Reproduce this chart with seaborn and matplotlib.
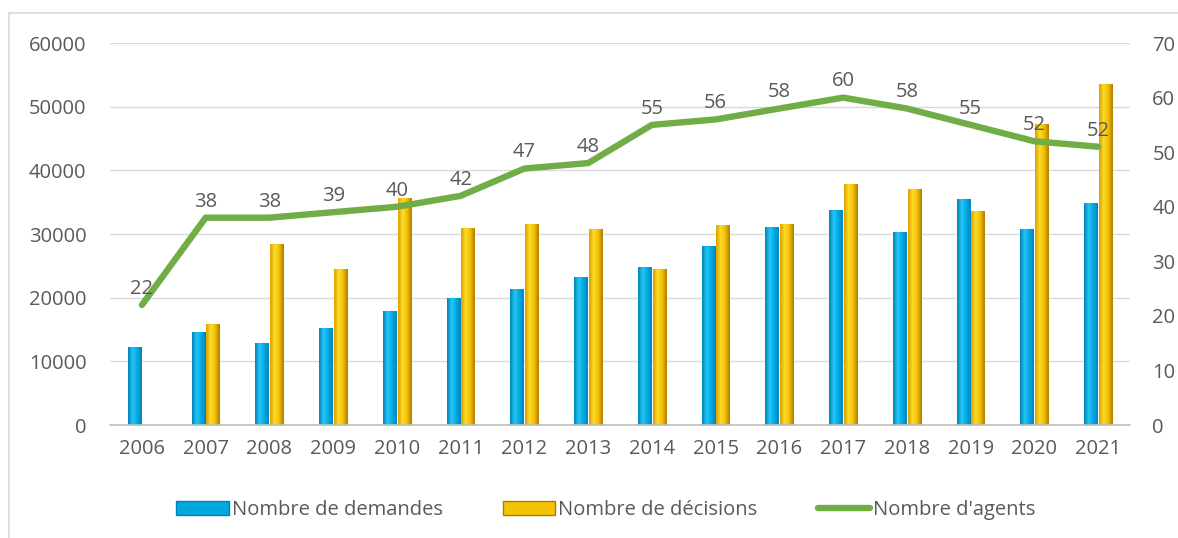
import numpy as np
import pandas as pd
import matplotlib
matplotlib.use('Agg')
import matplotlib.pyplot as plt
from matplotlib.patches import Rectangle, Patch
from matplotlib.lines import Line2D
import seaborn as sns

years = ['2006', '2007', '2008', '2009', '2010', '2011', '2012', '2013',
         '2014', '2015', '2016', '2017', '2018', '2019', '2020', '2021']
demandes = [12300, 14650, 12900, 15200, 17900, 20000, 21350, 23250,
            24850, 28100, 31150, 33850, 30250, 35450, 30850, 34900]
decisions = [0, 15850, 28400, 24450, 35600, 30900, 31500, 30850,
             24450, 31400, 31550, 37800, 37000, 33550, 47250, 53500]
agents = [22, 38, 38, 39, 40, 42, 47, 48, 55, 56, 58, 60, 58, 55, 52, 51]
agent_labels = ['22', '38', '38', '39', '40', '42', '47', '48',
                '55', '56', '58', '60', '58', '55', '52', '52']

series_names = ['Nombre de demandes', 'Nombre de décisions', "Nombre d'agents"]

sns.set_theme(style='white')
plt.rcParams['font.family'] = ['Open Sans', 'DejaVu Sans']
text_col = '#595959'
fs = 14.5

df = pd.DataFrame({'year': years * 2,
                   'value': demandes + decisions,
                   'serie': [series_names[0]] * len(years) + [series_names[1]] * len(years)})

fig = plt.figure(figsize=(11.78, 5.38), dpi=100)
ax = fig.add_axes([0.0934, 0.210, 0.8659, 0.710])

sns.barplot(data=df, x='year', y='value', hue='serie', ax=ax,
            palette=['#00A8E0', '#F5C400'], width=0.46, gap=0.1,
            legend=False, saturation=1)

# cylinder-like shading on the bars
grads = {0: ['#0082B8', '#26C6F6', '#00AAE2', '#0084BC'],
         1: ['#D9A000', '#FFDC2A', '#F2BE00', '#B07C00']}
n = len(years)
for i, p in enumerate(ax.patches[:2 * n]):
    g = grads[i // n]
    cmap = matplotlib.colors.LinearSegmentedColormap.from_list('c', g)
    x0, w = p.get_x(), p.get_width()
    h = p.get_height()
    if h <= 0:
        continue
    im = ax.imshow(np.linspace(0, 1, 64).reshape(1, -1), cmap=cmap, aspect='auto',
                   extent=[x0, x0 + w, 0, h], zorder=p.get_zorder(), interpolation='bicubic')
    im.set_clip_path(p)
    p.set_alpha(0)

ax.set_xlim(-0.5, n - 0.5)
ax.set_ylim(0, 60000)
ax.set_yticks(range(0, 60001, 10000))
ax.yaxis.grid(True, color='#D9D9D9', linewidth=1)
ax.set_axisbelow(True)
for s in ['top', 'right', 'left']:
    ax.spines[s].set_visible(False)
ax.spines['bottom'].set_color('#BFBFBF')
ax.spines['bottom'].set_linewidth(1.2)
ax.set_xlabel('')
ax.set_ylabel('')
ax.tick_params(axis='both', length=0, labelsize=fs, labelcolor=text_col)
ax.tick_params(axis='y', pad=17)
ax.tick_params(axis='x', pad=10)

ax2 = ax.twinx()
sns.lineplot(x=np.arange(n), y=agents, ax=ax2, color='#70AD47', linewidth=4.6,
             solid_capstyle='round', solid_joinstyle='round')
ax2.set_ylim(0, 70)
ax2.set_yticks(range(0, 71, 10))
for s in ax2.spines.values():
    s.set_visible(False)
ax2.tick_params(axis='y', length=0, labelsize=fs, labelcolor=text_col, pad=16)
ax2.set_xlim(-0.5, n - 0.5)

for i, (v, lab) in enumerate(zip(agents, agent_labels)):
    ax2.annotate(lab, (i, v), xytext=(0, 8), textcoords='offset points',
                 ha='center', va='baseline', fontsize=fs, color=text_col)

handles = [Patch(facecolor='#00A8E0', edgecolor='#0082B8'),
           Patch(facecolor='#F5C400', edgecolor='#B07C00'),
           Line2D([], [], color='#70AD47', linewidth=4.6, solid_capstyle='round')]
fig.legend(handles, series_names, loc='center', bbox_to_anchor=(0.5144, 0.052),
           ncol=3, frameon=False, fontsize=fs, labelcolor=text_col,
           handlelength=2.6, handletextpad=0.15, columnspacing=3.0)

fig.add_artist(Rectangle((0.0076, -0.01), 1.0, 0.986, transform=fig.transFigure,
                         fill=False, edgecolor='#D9D9D9', linewidth=1.2))

fig.savefig('out.png', dpi=100)
